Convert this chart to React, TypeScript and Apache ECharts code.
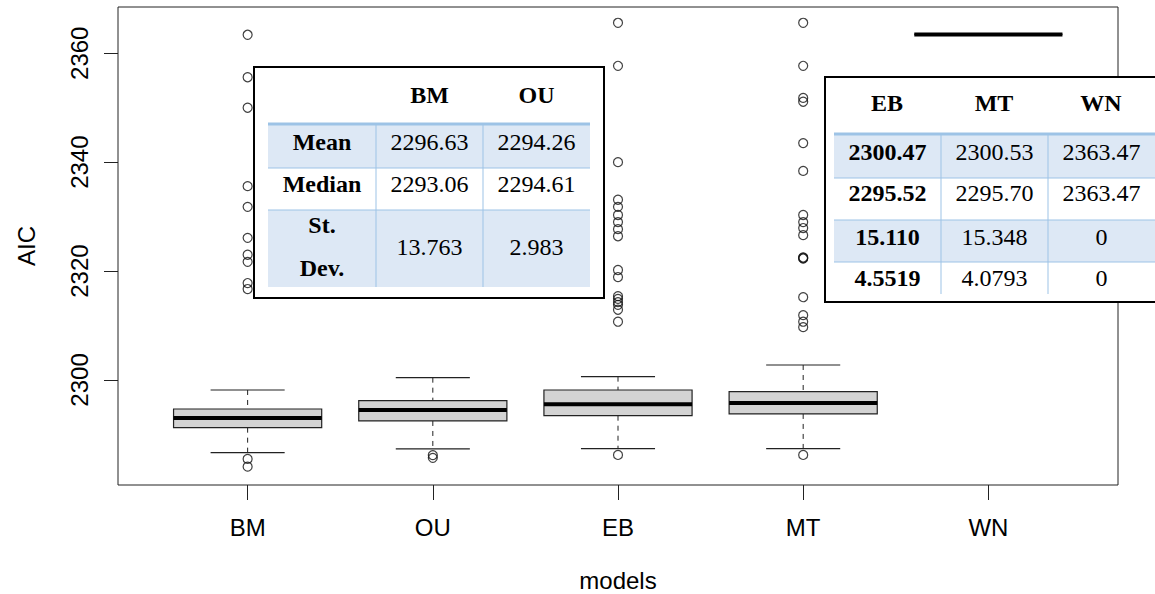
import React, { useEffect, useRef } from "react";
import * as echarts from "echarts";

// ---------- data ----------
const models = ["BM", "OU", "EB", "MT", "WN"];
const yTicks = [2300, 2320, 2340, 2360];

// [lower whisker, Q1, median, Q3, upper whisker]
const statsBM = [2286.65, 2291.24, 2293.02, 2294.67, 2298.16];
const statsOU = [2287.33, 2292.47, 2294.49, 2296.2, 2300.42];
const statsEB = [2287.38, 2293.44, 2295.54, 2298.16, 2300.61];
const statsMT = [2287.38, 2293.76, 2295.78, 2297.85, 2302.75];
const statsWN = [2363.47, 2363.47, 2363.47, 2363.47, 2363.47];

const outliersBM = [2363.4, 2355.6, 2350.0, 2335.6, 2331.8, 2326.1, 2323.0, 2321.7, 2317.8, 2316.7, 2285.5, 2284.08];
const outliersOU = [2286.2, 2285.7];
const outliersEB = [2365.6, 2357.7, 2340.0, 2333.1, 2331.8, 2330.3, 2329.0, 2327.7, 2326.4, 2320.2, 2318.9, 2315.4, 2314.9, 2314.3, 2313.8, 2312.9, 2310.7, 2286.23];
const outliersMT = [2365.6, 2357.7, 2351.8, 2351.1, 2343.5, 2338.4, 2330.3, 2329.0, 2327.9, 2326.6, 2322.5, 2322.4, 2322.3, 2315.2, 2311.9, 2310.7, 2309.7, 2286.23];
const outliersWN: number[] = [];

// tables
const leftTableHeader = ["BM", "OU"];
const leftRowLabels = ["Mean", "Median", "St.\nDev."];
const leftTableValues = [
  ["2296.63", "2294.26"],
  ["2293.06", "2294.61"],
  ["13.763", "2.983"],
];
const rightTableHeader = ["EB", "MT", "WN"];
const rightTableValues = [
  ["2300.47", "2300.53", "2363.47"],
  ["2295.52", "2295.70", "2363.47"],
  ["15.110", "15.348", "0"],
  ["4.5519", "4.0793", "0"],
];

// ---------- helpers ----------
const allStats = [statsBM, statsOU, statsEB, statsMT, statsWN];
const allOutliers = [outliersBM, outliersOU, outliersEB, outliersMT, outliersWN];

const SANS = "'Liberation Sans', Arial, Helvetica, sans-serif";
const SERIF = "'Liberation Serif', 'Times New Roman', Times, serif";
const FILL = "#dde8f5";
const LINE = "#9dc3e6";

function buildTable(opts: {
  x: number; y: number; w: number; h: number;
  colEdges: number[]; headerY: number; bandY: number; rowEdges: number[];
  rowTextY: number[];
  filledRows: number[]; header: string[]; headerX: number[];
  rows: string[][]; boldCols: number[]; vLineBottom: number;
}) {
  const els: any[] = [];
  els.push({ type: "rect", shape: { x: opts.x, y: opts.y, width: opts.w, height: opts.h }, style: { fill: "#fff", stroke: "#000", lineWidth: 2 } });
  const L = opts.colEdges[0];
  const R = opts.colEdges[opts.colEdges.length - 1];
  opts.filledRows.forEach((r) => {
    els.push({ type: "rect", shape: { x: L, y: opts.rowEdges[r], width: R - L, height: opts.rowEdges[r + 1] - opts.rowEdges[r] }, style: { fill: FILL } });
  });
  for (let i = 1; i < opts.rowEdges.length - 1; i++) {
    els.push({ type: "line", shape: { x1: L, y1: opts.rowEdges[i], x2: R, y2: opts.rowEdges[i] }, style: { stroke: LINE, lineWidth: 1 } });
  }
  for (let j = 1; j < opts.colEdges.length - 1; j++) {
    els.push({ type: "line", shape: { x1: opts.colEdges[j], y1: opts.bandY, x2: opts.colEdges[j], y2: opts.vLineBottom }, style: { stroke: LINE, lineWidth: 1 } });
  }
  els.push({ type: "line", shape: { x1: L, y1: opts.bandY, x2: R, y2: opts.bandY }, style: { stroke: LINE, lineWidth: 3 } });
  opts.header.forEach((t, i) => {
    els.push({ type: "text", x: opts.headerX[i], y: opts.headerY, style: { text: t, font: `bold 24px ${SERIF}`, fill: "#000", align: "center", verticalAlign: "middle" } });
  });
  opts.rows.forEach((row, r) => {
    const cy = opts.rowTextY[r];
    row.forEach((t, c) => {
      const cx = (opts.colEdges[c] + opts.colEdges[c + 1]) / 2;
      const bold = opts.boldCols.indexOf(c) >= 0;
      els.push({ type: "text", x: cx, y: cy, style: { text: t, font: `${bold ? "bold " : ""}24px ${SERIF}`, lineHeight: 43, fill: "#000", align: "center", verticalAlign: "middle" } });
    });
  });
  return els;
}

export default function App() {
  const ref = useRef<HTMLDivElement>(null);
  useEffect(() => {
    document.body.style.margin = "0";
    const chart = echarts.init(ref.current!, null, { renderer: "svg" });

    const boxData = allStats.map((s, i) => [i + 1, ...s]);
    const outlierData: number[][] = [];
    allOutliers.forEach((arr, i) => arr.forEach((v) => outlierData.push([i + 1, v])));

    const leftRows = leftTableValues.map((r, i) => [leftRowLabels[i], ...r]);
    const leftTable = buildTable({
      x: 254, y: 67, w: 350, h: 231,
      colEdges: [268, 376, 483, 590], headerY: 95, bandY: 124,
      rowEdges: [124, 168, 210, 287], rowTextY: [141.5, 184, 246.5], filledRows: [0, 2],
      header: leftTableHeader, headerX: [429.5, 536.5],
      rows: leftRows, boldCols: [0], vLineBottom: 287,
    });
    const rightTable = buildTable({
      x: 825, y: 77, w: 345, h: 225,
      colEdges: [834, 941, 1048, 1155], headerY: 103, bandY: 134,
      rowEdges: [134, 178, 220, 262, 294], rowTextY: [151.5, 193, 236.5, 278], filledRows: [0, 2],
      header: rightTableHeader, headerX: [887, 994, 1101],
      rows: rightTableValues, boldCols: [0], vLineBottom: 294,
    });

    chart.setOption({
      animation: false,
      backgroundColor: "#fff",
      grid: { left: 118, top: 7, width: 1000, height: 478, outerBoundsMode: "none", containLabel: false, show: true, borderColor: "#222", borderWidth: 1, backgroundColor: "transparent" },
      xAxis: {
        type: "value", min: 0.3, max: 5.7,
        name: "models", nameLocation: "middle", nameGap: 83,
        nameTextStyle: { fontFamily: SANS, fontSize: 24, color: "#000" },
        axisLine: { show: false },
        splitLine: { show: false },
        axisTick: { show: true, inside: false, length: 15, customValues: [1, 2, 3, 4, 5], lineStyle: { color: "#222", width: 1 } },
        axisLabel: { customValues: [1, 2, 3, 4, 5], formatter: (v: number) => models[Math.round(v) - 1] ?? "", margin: 30, fontFamily: SANS, fontSize: 24, color: "#000" },
      },
      yAxis: {
        type: "value", min: 2280.71, max: 2368.5,
        name: "AIC", nameLocation: "middle", nameGap: 80, nameRotate: 90,
        nameTextStyle: { fontFamily: SANS, fontSize: 24, color: "#000" },
        axisLine: { show: false },
        splitLine: { show: false },
        axisTick: { show: true, inside: false, length: 14, customValues: yTicks, lineStyle: { color: "#222", width: 1 } },
        axisLabel: { customValues: yTicks, rotate: 90, margin: 27, formatter: (v: number) => String(v), fontFamily: SANS, fontSize: 24, color: "#000" },
      },
      series: [
        {
          type: "custom",
          data: boxData,
          encode: { x: 0, y: [1, 2, 3, 4, 5] },
          renderItem: (params: any, api: any) => {
            const x = api.value(0);
            const lo = api.value(1), q1 = api.value(2), med = api.value(3), q3 = api.value(4), hi = api.value(5);
            const c = (a: number, b: number) => api.coord([a, b]);
            const pHi = c(x, hi), pQ3 = c(x, q3), pQ1 = c(x, q1), pLo = c(x, lo);
            const boxL = c(x - 0.4, q3), boxR = c(x + 0.4, q1);
            const capL = c(x - 0.2, hi), capR = c(x + 0.2, hi);
            const capL2 = c(x - 0.2, lo), capR2 = c(x + 0.2, lo);
            const mL = c(x - 0.4, med), mR = c(x + 0.4, med);
            const dash = { stroke: "#222", lineWidth: 1, lineDash: [5, 5] };
            const solid = { stroke: "#222", lineWidth: 1.2 };
            return {
              type: "group",
              children: [
                { type: "line", shape: { x1: pHi[0], y1: pHi[1], x2: pQ3[0], y2: pQ3[1] }, style: dash },
                { type: "line", shape: { x1: pQ1[0], y1: pQ1[1], x2: pLo[0], y2: pLo[1] }, style: dash },
                { type: "line", shape: { x1: capL[0], y1: capL[1], x2: capR[0], y2: capR[1] }, style: solid },
                { type: "line", shape: { x1: capL2[0], y1: capL2[1], x2: capR2[0], y2: capR2[1] }, style: solid },
                { type: "rect", shape: { x: boxL[0], y: boxL[1], width: boxR[0] - boxL[0], height: boxR[1] - boxL[1] }, style: { fill: "#d3d3d3", stroke: "#222", lineWidth: 1.2 } },
                { type: "line", shape: { x1: mL[0], y1: mL[1], x2: mR[0], y2: mR[1] }, style: { stroke: "#000", lineWidth: 4 } },
              ],
            };
          },
          z: 2,
        },
        {
          type: "scatter",
          data: outlierData,
          symbol: "circle",
          symbolSize: 9,
          itemStyle: { color: "rgba(0,0,0,0)", borderColor: "#111", borderWidth: 1.2 },
          z: 3,
        },
      ],
      graphic: [...leftTable, ...rightTable].map((e) => ({ ...e, z: 100 })),
    });
    return () => chart.dispose();
  }, []);
  return <div ref={ref} style={{ width: 1155, height: 594 }} />;
}
